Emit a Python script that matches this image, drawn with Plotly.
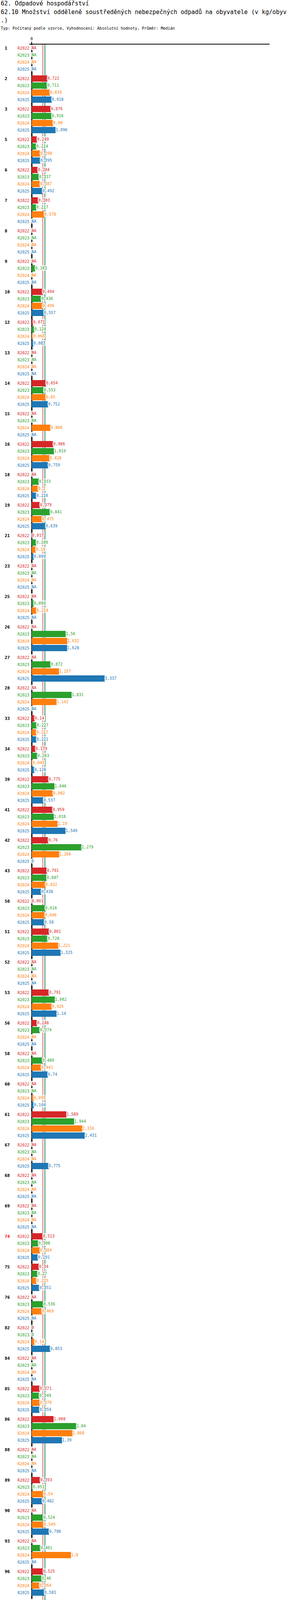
import numpy as np
import plotly.graph_objects as go

# kódy obcí (skupiny na ose y), "74" je zvýrazněná obec
codes = ["1", "2", "3", "5", "6", "7", "8", "9", "10", "12", "13", "14", "15", "16", "18", "19",
         "21", "23", "25", "26", "27", "28", "33", "34", "39", "41", "42", "43", "50", "51", "52",
         "53", "56", "58", "60", "61", "67", "68", "69", "74", "75", "76", "82", "84", "85", "86",
         "88", "89", "90", "93", "96", "100", "101", "102", "106", "111", "112", "113", "114",
         "115", "118", "121", "122", "125", "126", "129", "130", "131", "132", "134", "135", "136",
         "138", "139", "140", "141", "144", "145", "146", "147", "151", "152", "153", "154", "155",
         "1000", "9999"]
highlight_code = "74"

periods = ["R2022", "R2023", "R2024", "R2025"]
period_names = ["Realita - 2022", "Realita - 2023", "Realita - 2024", "Realita - 2025"]
colors = ["#d62728", "#2ca02c", "#ff7f0e", "#1f77b4"]

NA = None
r2022 = [NA, 0.722, 0.876, 0.249, 0.284, 0.303, NA, NA, 0.494, 0.071, NA, 0.654, NA, 0.986, NA, 0.379,
         0.017, NA, NA, NA, NA, NA, 0.14, 0.179, 0.775, 0.959, 0.76, 0.701, 0.001, 0.801, NA,
         0.791, 0.248, NA, NA, 1.589, NA, NA, NA, 0.513, 0.34, NA, 0, NA, 0.371, 1.008,
         NA, 0.393, NA, NA, 0.525, NA, NA, 0.536, NA, 0.441, 1.03, 0.223, NA,
         0.921, NA, 0.389, NA, 1.296, 0.598, NA, NA, NA, 0.414, 1.684, 0.834, NA,
         NA, 0.18, 0, 1.639, 0.374, 0.337, 0.51, NA, NA, NA, NA, NA, NA,
         NA, NA]
r2023 = [NA, 0.711, 0.916, 0.214, 0.337, 0.217, NA, 0.163, 0.436, 0.124, NA, 0.553, NA, 1.019, 0.333, 0.841,
         0.209, NA, 0.099, 1.56, 0.872, 1.831, 0.227, 0.263, 1.046, 1.018, 2.279, 0.687, 0.616, 0.728, NA,
         1.062, 0.374, 0.489, NA, 1.944, NA, NA, NA, 0.308, 0.27, 0.536, 0, NA, 0.349, 2.04,
         NA, 0.051, 0.524, 0.401, 0.46, NA, 0.806, 1.335, 0, 0.644, 0.954, 0.207, 6.577,
         0.987, NA, 0.69, NA, 1.299, 0.788, 1.081, NA, NA, 0.419, 1.582, 0.761, 1.024,
         NA, 0.224, 0, 2.8, 0.448, 0.612, 0.699, 2.196, 0.766, 0.065, NA, NA, NA,
         NA, NA]
r2024 = [NA, 0.839, 0.98, 0.398, 0.387, 0.578, NA, NA, 0.496, 0.066, NA, 0.65, 0.868, 0.828, 0.3, 0.475,
         0.19, NA, 0.224, 1.632, 1.257, 1.142, 0.217, 0.043, 0.982, 1.19, 1.266, 0.632, 0.606, 1.221, NA,
         0.925, NA, 0.441, 0.095, 2.316, NA, NA, NA, 0.384, 0.225, 0.469, 0.14, NA, 0.378, 1.868,
         NA, 0.54, 0.549, 1.8, 0.364, NA, 0.654, 0.622, 1.077, 0.53, 6.143, 0.367, 8.293,
         1.225, NA, 0.159, NA, 1.544, 0.761, 1.209, NA, NA, 0.367, 1.568, 0.848, 0.024,
         NA, 0.214, 0.014, 3.977, 0.212, 0.549, 0, 2.689, 1.38, 0.086, 0.243, NA, NA,
         NA, NA]
r2025 = [NA, 0.918, 1.096, 0.395, 0.492, NA, NA, NA, 0.557, 0.083, NA, 0.752, NA, 0.759, 0.216, 0.639,
         0.099, NA, NA, 1.628, 3.337, NA, 0.221, 0.126, 0.537, 1.549, 0, 0.438, 0.58, 1.325, NA,
         1.14, NA, 0.74, 0.104, 2.431, 0.775, NA, NA, 0.291, 0.351, NA, 0.853, NA, 0.359, 1.39,
         NA, 0.482, 0.798, NA, 0.581, NA, 0.992, 0.149, 0, 0.503, NA, 0.374, 10.729,
         1.217, NA, 0.126, NA, 1.474, 0.501, 1.308, NA, NA, 0.44, 1.693, 1.009, 0.766,
         NA, 0.189, 0.017, 2.13, 0.318, 1.052, 0, 2.722, 1.193, NA, 0.572, 0.193, NA,
         NA, NA]
series = [r2022, r2023, r2024, r2025]

title_1 = "62. Odpadové hospodářství"
title_2 = "62.10 Množství odděleně soustředěných nebezpečných odpadů na obyvatele (v kg/obyv"
title_3 = ".)"
subtitle = "Typ: Počítaný podle vzorce, Vyhodnocení: Absolutní hodnoty, Průměr: Medián"

MONO = "DejaVu Sans Mono"
# bílé "pozadí" popisků, aby přes ně nebyly vidět čáry mediánů
HALO = ", ".join(f"{dx}px {dy}px 0 #fff" for dx in (-2, 0, 2) for dy in (-3, 0, 3))

# rozměry stránky a plochy grafu (px)
W, H = 750, 7050
L, R, T, B = 75, 60, 114, 150
plot_w, plot_h = W - L - R, H - T - B
zero_px = 81          # poloha nuly na ose x
px_per_unit = 56.1
row_px, group_px = 18, 78


def fmt(v):
    return f"{round(v, 3):g}".replace(".", ",")


def px_x(px):
    return (px - L) / plot_w


def px_y(py):
    return 1 - (py - T) / plot_h


group_step = group_px / row_px
n_rows = plot_h / row_px
y_pos = [[gi * group_step + j for gi in range(len(codes))] for j in range(4)]

fig = go.Figure()
shapes = []
annotations = []

# čáry mediánů
stats = []
for j, vals in enumerate(series):
    arr = np.array([v for v in vals if v is not None], dtype=float)
    stats.append((np.median(arr), arr.min(), arr.max()))
for j in [0, 2, 1, 3]:
    shapes.append(dict(type="line", xref="x", yref="paper", x0=stats[j][0], x1=stats[j][0],
                       y0=0, y1=1, layer="below", line=dict(color=colors[j], width=1.2)))

for j, vals in enumerate(series):
    fig.add_trace(go.Bar(
        y=y_pos[j], x=vals, orientation="h", width=16 / row_px,
        marker=dict(color=colors[j], line=dict(width=0)),
        hoverinfo="skip", showlegend=False,
    ))
    fig.add_trace(go.Scatter(
        x=[v if v is not None else 0 for v in vals], y=y_pos[j], mode="text",
        text=[fmt(v) if v is not None else "NA" for v in vals],
        textposition="middle right",
        textfont=dict(family=MONO, size=10, color=colors[j], shadow=HALO),
        cliponaxis=False, hoverinfo="skip", showlegend=False,
    ))
    for gi in range(len(codes)):
        annotations.append(dict(
            xref="x", yref="y", x=0, y=y_pos[j][gi], xanchor="right", yanchor="middle",
            xshift=-4, text=periods[j], showarrow=False,
            font=dict(family=MONO, size=10, color=colors[j]),
        ))

for gi, code in enumerate(codes):
    annotations.append(dict(
        xref="paper", yref="y", x=px_x(10), y=y_pos[0][gi], xanchor="left", yanchor="middle",
        text=f"<b>{code}</b>", showarrow=False,
        font=dict(family=MONO, size=11, color="red" if code == highlight_code else "black"),
    ))

# nadpisy
for text, py, size in [(title_1, 9, 15), (title_2, 31, 15), (title_3, 52, 15), (subtitle, 73, 10)]:
    annotations.append(dict(
        xref="paper", yref="paper", x=px_x(0), y=px_y(py), xanchor="left", yanchor="middle",
        text=text, showarrow=False, font=dict(family=MONO, size=size, color="black"),
    ))

# legenda období
for j in range(4):
    annotations.append(dict(
        xref="paper", yref="paper", x=px_x(80 if j % 2 == 0 else 381), y=px_y(6922 + 20 * (j // 2)),
        xanchor="left", yanchor="middle", text=f"Období[{periods[j]}]: {period_names[j]}",
        showarrow=False, font=dict(family=MONO, size=10, color=colors[j]),
    ))

# statistiky
for j in range(4):
    med, mn, mx = stats[j]
    for label, val, px in [("Medián", med, 80), ("Min", mn, 331), ("Max", mx, 532)]:
        annotations.append(dict(
            xref="paper", yref="paper", x=px_x(px), y=px_y(6972 + 20 * j),
            xanchor="left", yanchor="middle", text=f"{label}: {fmt(val)}",
            showarrow=False, font=dict(family=MONO, size=10, color=colors[j]),
        ))

x_lo = -(zero_px - L) / px_per_unit
x_hi = (L + plot_w - zero_px) / px_per_unit

fig.update_layout(
    width=W, height=H,
    margin=dict(l=L, r=R, t=T, b=B, autoexpand=False),
    paper_bgcolor="white", plot_bgcolor="white",
    barmode="overlay", hovermode=False,
    shapes=shapes, annotations=annotations,
    xaxis=dict(
        side="top", range=[x_lo, x_hi], tickvals=[0], ticktext=["0"],
        ticks="outside", ticklen=5, tickwidth=2, tickcolor="black",
        tickfont=dict(family=MONO, size=10, color="black"),
        showline=True, linecolor="black", linewidth=1.5,
        zeroline=True, zerolinecolor="black", zerolinewidth=2.5, showgrid=False,
    ),
    yaxis=dict(
        range=[n_rows - 0.5, -0.5], showticklabels=False, showgrid=False,
        zeroline=False, showline=False, ticks="",
    ),
)

# bez okraje stránky, aby graf začínal v levém horním rohu okna
fig.write_html("out.html", config={"displayModeBar": False},
               post_script="document.body.style.margin = '0';")
